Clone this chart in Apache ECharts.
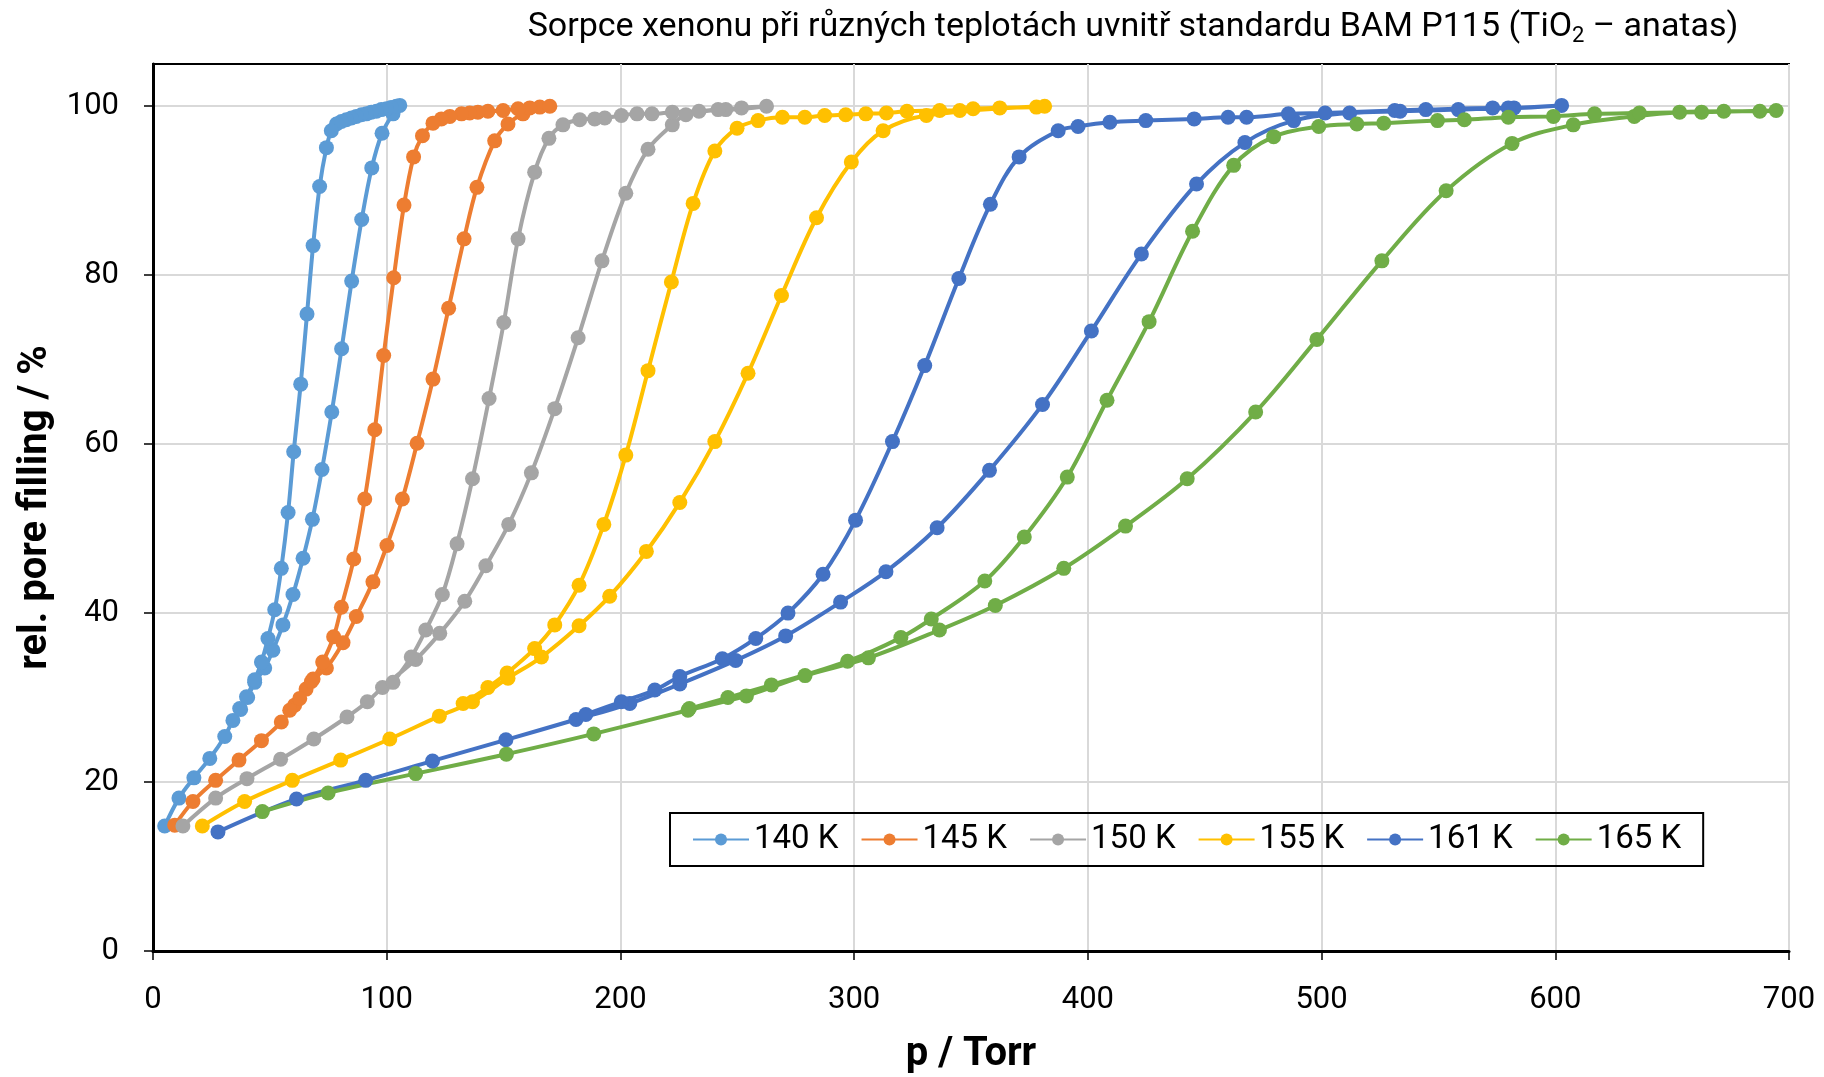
<!DOCTYPE html>
<html>
<head>
<meta charset="utf-8">
<title>Sorpce xenonu – BAM P115</title>
<script src="https://cdn.jsdelivr.net/npm/echarts@6/dist/echarts.min.js"></script>
<style>
  html, body { margin: 0; padding: 0; background: #fff; }
  #chart { width: 1824px; height: 1077px; }
</style>
</head>
<body>
<div id="chart"></div>
<script>
// Xenon sorption isotherms in BAM P115 (TiO2 anatase): pressure [Torr] vs. relative pore filling [%].
// Each loop runs up the adsorption branch and back down the desorption branch.
const seriesNames = ['140 K', '145 K', '150 K', '155 K', '161 K', '165 K'];
const seriesColors = ['#5B9BD5', '#ED7D31', '#A5A5A5', '#FFC000', '#4472C4', '#70AD47'];
const xTicks = [0, 100, 200, 300, 400, 500, 600, 700];
const yTicks = [0, 20, 40, 60, 80, 100];

const k140 = [
  [5.0,14.8],[11.1,18.1],[17.5,20.5],[24.3,22.8],[30.7,25.4],[34.2,27.3],[37.5,28.6],[40.5,30.0],
  [43.5,31.8],[47.8,33.5],[51.3,35.6],[55.6,38.6],[59.9,42.2],[64.2,46.5],[68.2,51.1],[72.3,57.0],
  [76.5,63.8],[80.7,71.3],[85.0,79.3],[89.3,86.6],[93.6,92.7],[98.0,96.8],[102.7,99.1],[105.6,100.1],
  [104.1,100.0],[101.9,99.85],[99.9,99.7],[97.7,99.6],[95.6,99.4],[93.4,99.3],[91.3,99.1],[89.2,99.0],
  [87.0,98.8],[84.9,98.6],[82.7,98.4],[80.6,98.2],[78.5,97.9],[76.3,97.1],[74.2,95.1],[71.3,90.5],
  [68.5,83.5],[65.9,75.4],[63.2,67.1],[60.2,59.1],[57.8,51.9],[54.9,45.3],[52.1,40.4],[49.2,37.0],
  [46.4,34.2],[43.5,32.1],[40.0,30.1],[37.1,28.7]
];
const k145 = [
  [9.3,14.9],[17.1,17.7],[26.8,20.2],[36.8,22.6],[46.4,24.9],[54.9,27.1],[60.6,29.1],[65.5,31.0],
  [68.5,32.2],[74.2,33.5],[81.3,36.5],[87.0,39.6],[94.1,43.7],[100.1,48.0],[106.7,53.5],[113.0,60.1],
  [119.8,67.7],[126.5,76.1],[133.1,84.3],[138.6,90.4],[146.2,95.9],[151.9,97.9],[158.3,99.1],[165.5,99.9],
  [169.8,100.0],
  [161.2,99.8],[156.2,99.7],[149.8,99.5],[143.3,99.4],[139.0,99.3],[135.5,99.2],[132.0,99.1],[127.0,98.8],
  [123.4,98.5],[119.8,98.0],[115.3,96.5],[111.5,94.0],[107.4,88.3],[103.0,79.7],[98.7,70.5],[94.9,61.7],
  [90.6,53.5],[85.9,46.4],[80.6,40.7],[77.3,37.2],[72.6,34.2],[67.8,31.9],[62.8,29.9],[58.5,28.5]
];
const k150 = [
  [12.8,14.8],[26.8,18.1],[40.2,20.4],[54.6,22.7],[68.8,25.1],[83.0,27.7],[91.7,29.5],[98.2,31.2],
  [112.4,34.5],[122.7,37.6],[133.4,41.4],[142.4,45.6],[152.2,50.5],[161.9,56.6],[171.9,64.2],[181.9,72.6],
  [192.1,81.7],[202.3,89.7],[211.8,94.9],[222.2,97.8],[228.0,99.0],[251.8,99.8],[262.5,100.0],
  [245.1,99.6],[241.8,99.6],[233.6,99.4],[222.2,99.3],[213.5,99.1],[207.1,99.1],[200.4,98.9],[193.3,98.6],
  [189.0,98.5],[182.6,98.4],[175.4,97.8],[169.4,96.2],[163.3,92.2],[156.2,84.3],[150.1,74.4],[143.8,65.4],
  [136.7,55.9],[130.1,48.2],[123.8,42.2],[116.7,38.0],[110.5,34.8],[102.7,31.8]
];
const k155 = [
  [21.1,14.8],[39.2,17.7],[59.6,20.2],[80.3,22.6],[101.3,25.1],[122.5,27.8],[136.7,29.5],[151.9,32.3],
  [166.2,34.8],[182.3,38.5],[195.4,42.0],[211.1,47.3],[225.4,53.1],[240.4,60.3],[254.6,68.4],[268.9,77.6],
  [283.9,86.8],[298.8,93.4],[312.4,97.1],[330.9,98.9],[381.5,100.0],
  [378.0,99.9],[362.3,99.8],[350.9,99.7],[345.2,99.5],[336.6,99.5],[322.6,99.4],[313.8,99.2],[305.0,99.1],
  [296.4,99.0],[287.4,98.9],[278.9,98.7],[269.3,98.7],[258.9,98.3],[249.9,97.4],[240.4,94.7],[231.1,88.5],
  [221.8,79.2],[211.8,68.7],[202.3,58.7],[192.9,50.5],[182.3,43.3],[171.9,38.6],[163.3,35.8],[151.5,32.9],
  [143.3,31.2],[132.7,29.3]
];
const k161 = [
  [27.8,14.1],[61.4,18.0],[91.0,20.2],[119.6,22.5],[151.0,25.0],[181.0,27.4],[204.0,29.3],[225.4,31.6],
  [249.3,34.4],[270.7,37.3],[294.2,41.3],[313.6,44.9],[335.5,50.1],[357.9,56.9],[380.6,64.7],[401.5,73.4],
  [422.9,82.5],[446.5,90.8],[467.2,95.7],[488.1,98.3],[512.0,99.2],[533.6,99.4],[558.5,99.6],[582.3,99.8],
  [602.7,100.1],
  [579.9,99.8],[573.2,99.8],[544.6,99.6],[531.3,99.5],[501.5,99.2],[485.8,99.1],[467.9,98.7],[460.0,98.7],
  [445.5,98.5],[424.8,98.3],[409.4,98.1],[395.8,97.6],[387.3,97.1],[370.6,94.0],[358.3,88.4],[344.8,79.6],
  [330.2,69.3],[316.4,60.3],[300.6,51.0],[286.7,44.6],[271.7,40.0],[257.9,37.0],[243.6,34.6],[225.4,32.5],
  [214.7,30.9],[200.4,29.5],[185.2,28.0]
];
const k165 = [
  [46.8,16.5],[74.9,18.7],[112.4,21.0],[151.2,23.3],[188.6,25.7],[228.9,28.5],[253.9,30.2],[279.0,32.6],
  [306.1,34.7],[336.5,38.0],[360.4,40.9],[389.7,45.3],[416.1,50.3],[442.5,55.9],[471.8,63.8],[498.0,72.4],
  [525.8,81.7],[553.3,90.0],[581.5,95.6],[607.7,97.8],[633.8,98.8],[653.2,99.3],[672.1,99.4],[687.5,99.4],
  [694.5,99.5],
  [662.6,99.3],[636.0,99.2],[616.8,99.1],[599.2,98.8],[579.9,98.7],[561.1,98.4],[549.6,98.3],[526.6,98.0],
  [515.1,97.9],[498.8,97.6],[479.5,96.4],[462.4,93.0],[444.8,85.2],[426.2,74.5],[408.2,65.2],[391.2,56.1],
  [372.8,49.0],[355.9,43.8],[333.0,39.3],[320.0,37.1],[297.2,34.3],[264.6,31.5],[246.0,30.0],[229.5,28.7]
];
const seriesData = [k140, k145, k150, k155, k161, k165];

const FONT = "Roboto, 'Noto Sans', sans-serif";

const chart = echarts.init(document.getElementById('chart'), null, { renderer: 'canvas' });

chart.setOption({
  backgroundColor: '#ffffff',
  animation: false,
  textStyle: { fontFamily: FONT, color: '#000' },
  title: {
    text: '{a|Sorpce xenonu při různých teplotách uvnitř standardu BAM P115 (TiO}{s|2}{a| – anatas)}',
    left: 1128,
    top: 1,
    textAlign: 'center',
    textStyle: {
      fontWeight: 'normal',
      rich: {
        a: { fontFamily: FONT, fontSize: 34, fontWeight: 'normal', color: '#000', lineHeight: 42 },
        s: { fontFamily: FONT, fontSize: 22, fontWeight: 'normal', color: '#000', lineHeight: 42, padding: [18, 0, 0, 0] }
      }
    }
  },
  grid: {
    left: 153, right: 35, top: 64, bottom: 126,
    outerBoundsMode: 'none',
    show: true, borderColor: '#000', borderWidth: 2, backgroundColor: 'transparent'
  },
  legend: {
    data: seriesNames,
    left: 670, top: 813,
    width: 1040,
    padding: [10, 22, 10, 22],
    borderColor: '#000', borderWidth: 2,
    itemWidth: 56, itemHeight: 15, itemGap: 22,
    textStyle: { fontFamily: FONT, fontSize: 33, color: '#000' }
  },
  xAxis: {
    type: 'value', min: 0, max: 700, interval: 100,
    name: 'p / Torr', nameLocation: 'middle', nameGap: 84,
    nameTextStyle: { fontFamily: FONT, fontSize: 40, fontWeight: 'bold', color: '#000' },
    axisLine: { show: true, lineStyle: { color: '#000', width: 3 } },
    axisTick: { show: true, inside: false, length: 9, lineStyle: { color: '#000', width: 1.5 } },
    axisLabel: { margin: 34, fontFamily: FONT, fontSize: 31, color: '#000',
      customValues: xTicks },
    splitLine: { show: true, lineStyle: { color: '#D9D9D9', width: 2 } }
  },
  yAxis: {
    type: 'value', min: 0, max: 105, interval: 20,
    name: 'rel. pore filling / %', nameLocation: 'middle', nameGap: 96,
    nameTextStyle: { fontFamily: FONT, fontSize: 40, fontWeight: 'bold', color: '#000' },
    axisLine: { show: true, lineStyle: { color: '#000', width: 3 } },
    axisTick: { show: true, inside: false, length: 9, lineStyle: { color: '#000', width: 1.5 },
      customValues: yTicks },
    axisLabel: { margin: 34, fontFamily: FONT, fontSize: 31, color: '#000',
      customValues: yTicks },
    splitLine: { show: true, lineStyle: { color: '#D9D9D9', width: 2 } }
  },
  series: seriesNames.map((name, i) => ({
    name: name,
    type: 'line',
    data: seriesData[i],
    smooth: 0.35,
    symbol: 'circle',
    symbolSize: 15,
    showAllSymbol: true,
    clip: true,
    color: seriesColors[i],
    lineStyle: { color: seriesColors[i], width: 4 },
    itemStyle: { color: seriesColors[i] },
    emphasis: { disabled: true }
  }))
});
</script>
</body>
</html>
